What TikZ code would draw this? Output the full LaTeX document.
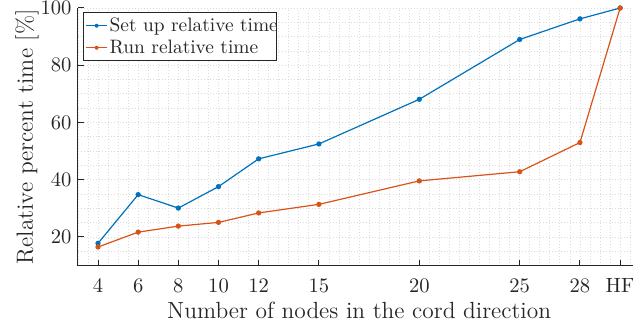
\documentclass[tikz,border=0pt]{standalone}
\definecolor{setupblue}{rgb}{0,0.447,0.741}
\definecolor{runorange}{rgb}{0.85,0.325,0.098}
\definecolor{axisgray}{rgb}{0.15,0.15,0.15}
\begin{document}
\begin{tikzpicture}[x=10.04pt, y=1.43125pt,
		every node/.style = {inner sep=0pt, text=axisgray},
		gridline/.style={gray!28, dash pattern=on 0.5pt off 1pt, line width=0.4pt},
		axisline/.style={axisgray, line width=0.5pt},
		setupline/.style={setupblue, line width=0.6pt},
		runline/.style={runorange, line width=0.6pt},
		ticklabel/.style={font=\fontsize{10.3}{12}\selectfont},
		labeltext/.style={font=\fontsize{11.7}{14}\selectfont},
		legendtext/.style={font=\fontsize{9.7}{12}\selectfont, anchor=base west}]
		\useasboundingbox (-0.8815,-12.14) rectangle (30.642,102.79);
		% grid
		\foreach \gx in {3,3.5,...,30.5}
			\draw[gridline] (\gx,10) -- (\gx,100);
		\foreach \gy in {10,15,...,100}
			\draw[gridline] (3,\gy) -- (30.64,\gy);
		% axes and ticks
		\draw[axisline] (3,100) -- (3,10) -- (30.64,10);
		\foreach \v in {20,40,...,100} {
			\draw[axisline] (3,\v) -- (3.3,\v);
			\node[ticklabel, anchor=east] (ytick\v) at (2.7,\v) {\v};
		}
		\foreach \v/\t in {4/4,6/6,8/8,10/10,12/12,15/15,20/20,25/25,28/28,30/HF} {
			\draw[axisline] (\v,10) -- (\v,12.1);
			\node[ticklabel, anchor=base] (xtick\v) at (\v,0.44) {\t};
		}
		\node[labeltext, anchor=base] (xlabel) at (17,-8.4) {Number of nodes in the cord direction};
		\node[labeltext, rotate=90, anchor=base] (ylabel) at (0.76,55) {Relative percent time [\%]};
		% data
		\draw[setupline] plot[mark=*, mark size=1pt] coordinates {(4,17.8) (6,34.8) (8,30.1) (10,37.6) (12,47.3) (15,52.5) (20,68.1) (25,89) (28,96.2) (30,100)};
		\draw[runline] plot[mark=*, mark size=1pt] coordinates {(4,16.5) (6,21.7) (8,23.8) (10,25.1) (12,28.4) (15,31.4) (20,39.6) (25,42.8) (28,53) (30,100)};
		% legend
		\draw[axisline, fill=white] (3.3,81.8) rectangle (12.9,98.5);
		\draw[setupline] (3.4,93.8) -- (4.46,93.8);
		\fill[setupblue] (3.93,93.8) circle (1pt);
		\draw[runline] (3.4,86.1) -- (4.46,86.1);
		\fill[runorange] (3.93,86.1) circle (1pt);
		\node[legendtext] (setuptext) at (4.56,91.7) {Set up relative time};
		\node[legendtext] (runtext) at (4.56,84.0) {Run relative time};
	\end{tikzpicture}
\end{document}
